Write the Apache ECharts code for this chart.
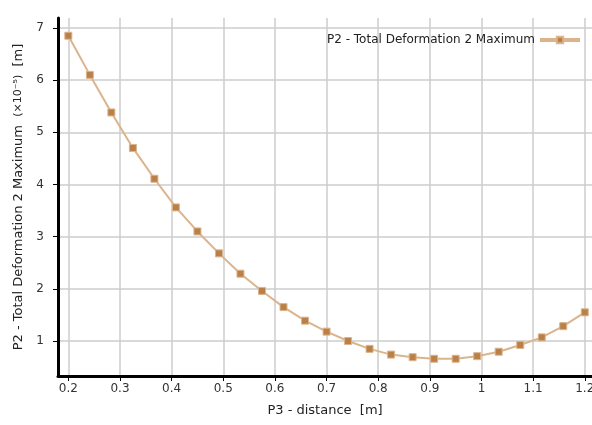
<!DOCTYPE html>
<html>
<head>
<meta charset="utf-8">
<script src="https://cdn.jsdelivr.net/npm/echarts@6/dist/echarts.min.js"></script>
<style>
  html, body { margin: 0; padding: 0; background: #fff; }
  #main { width: 592px; height: 425px; }
</style>
</head>
<body>
<div id="main"></div>
<script>
// P3 - distance [m]
var distance = [0.2, 0.2417, 0.2833, 0.325, 0.3667, 0.4083, 0.45, 0.4917, 0.5333, 0.575,
    0.6167, 0.6583, 0.7, 0.7417, 0.7833, 0.825, 0.8667, 0.9083, 0.95, 0.9917,
    1.0333, 1.075, 1.1167, 1.1583, 1.2];
// P2 - Total Deformation 2 Maximum (x10^-5 m)
var deformation = [6.85, 6.10, 5.38, 4.70, 4.11, 3.56, 3.10, 2.68, 2.29, 1.96,
    1.65, 1.39, 1.18, 1.00, 0.85, 0.74, 0.69, 0.66, 0.66, 0.71,
    0.795, 0.925, 1.07, 1.285, 1.55];
var xTicks = [0.2, 0.3, 0.4, 0.5, 0.6, 0.7, 0.8, 0.9, 1, 1.1, 1.2];
var yTicks = [1, 2, 3, 4, 5, 6, 7];

var seriesName = 'P2 - Total Deformation 2 Maximum';

var points = [];
for (var i = 0; i < distance.length; i++) {
    points.push([distance[i], deformation[i]]);
}

var myChart = echarts.init(document.getElementById('main'));
var font = 'DejaVu Sans';

var option = {
    animation: false,
    backgroundColor: '#ffffff',
    textStyle: { fontFamily: font },
    grid: {
        left: 58,
        top: 18,
        right: 0,
        height: 358,
        outerBoundsMode: 'none',
        containLabel: false
    },
    legend: {
        data: [seriesName],
        right: 5,
        top: 29,
        align: 'right',
        itemWidth: 40,
        itemHeight: 8,
        itemGap: 5,
        lineStyle: { width: 4 },
        textStyle: { fontFamily: font, fontSize: 12, color: '#222' }
    },
    xAxis: {
        type: 'value',
        min: 0.18,
        max: 1.214,
        splitNumber: 10,
        name: 'P3 - distance  [m]',
        nameLocation: 'middle',
        nameGap: 28,
        nameTextStyle: { fontFamily: font, fontSize: 13, color: '#222' },
        axisLine: { show: true, onZero: false, lineStyle: { color: '#000', width: 3 } },
        axisTick: { show: true, customValues: xTicks, length: 5, lineStyle: { color: '#000', width: 1 } },
        axisLabel: {
            customValues: xTicks,
            margin: 7,
            fontFamily: font, fontSize: 12, color: '#333'
        },
        splitLine: {
            show: true,
            lineStyle: { color: '#cccccc', width: 1.5 }
        }
    },
    yAxis: {
        type: 'value',
        min: 0.33,
        max: 7.19,
        splitNumber: 7,
        name: '{a|P2 - Total Deformation 2 Maximum  }{b|(×10⁻⁵)}{a|  [m]}',
        nameLocation: 'middle',
        nameGap: 33,
        nameTextStyle: {
            rich: {
                a: { fontFamily: font, fontSize: 13, color: '#222' },
                b: { fontFamily: font, fontSize: 11, color: '#222' }
            }
        },
        axisLine: { show: true, onZero: false, lineStyle: { color: '#000', width: 3 } },
        axisTick: { show: true, customValues: yTicks, length: 5, lineStyle: { color: '#000', width: 1 } },
        axisLabel: {
            customValues: yTicks,
            margin: 14,
            fontFamily: font, fontSize: 12, color: '#333'
        },
        splitLine: {
            show: true,
            lineStyle: { color: '#cccccc', width: 1.5 }
        }
    },
    series: [
        {
            name: seriesName,
            type: 'line',
            data: points,
            symbol: 'rect',
            symbolSize: 7,
            lineStyle: { color: '#dcb48c', width: 2 },
            itemStyle: { color: '#b98149', borderColor: '#dcb48c', borderWidth: 1 }
        }
    ]
};

myChart.setOption(option);
</script>
</body>
</html>
